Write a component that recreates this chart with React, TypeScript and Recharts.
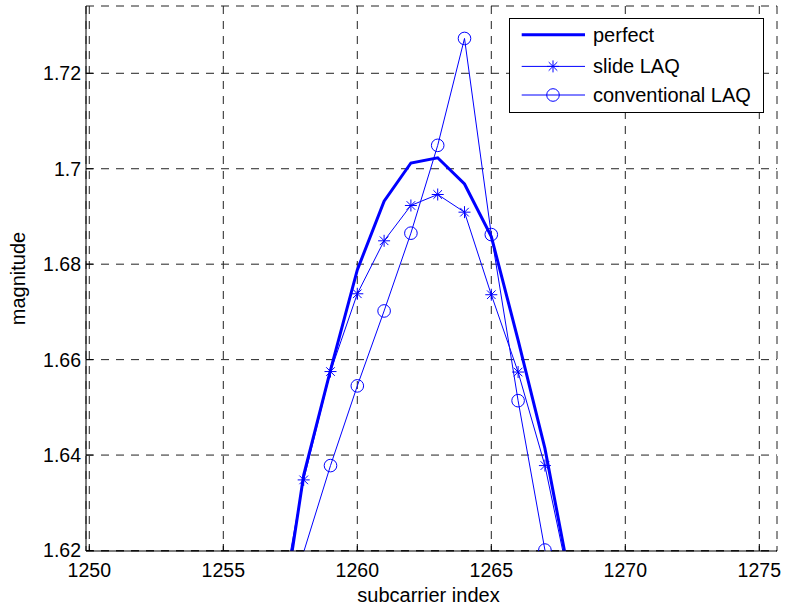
import React from 'react';
import { LineChart, Line, XAxis, YAxis, CartesianGrid, Legend } from 'recharts';

const subcarrierIndex = [1257, 1258, 1259, 1260, 1261, 1262, 1263, 1264, 1265, 1266, 1267, 1268];
const perfectValues = [1.5988, 1.6358, 1.6578, 1.6788, 1.6932, 1.7012, 1.7023, 1.6968, 1.6858, 1.6641, 1.6414, 1.612];
const slideLaqValues = [1.6043, 1.6348, 1.6575, 1.6738, 1.6849, 1.6923, 1.6946, 1.6909, 1.6736, 1.6574, 1.6378, 1.611];
const conventionalLaqValues = [1.6, 1.6197, 1.6378, 1.6545, 1.6702, 1.6865, 1.7049, 1.7273, 1.6862, 1.6514, 1.6201, 1.59];
const seriesNames = ['perfect', 'slide LAQ', 'conventional LAQ'];
const xTicks = [1250, 1255, 1260, 1265, 1270, 1275];
const yTicks = [1.62, 1.64, 1.66, 1.68, 1.7, 1.72];

const X_DOMAIN: [number, number] = [1249.877, 1275.66];
const Y_DOMAIN: [number, number] = [1.6199, 1.7341];

const data = subcarrierIndex.map((x, i) => ({
  x,
  perfect: perfectValues[i],
  slide: slideLaqValues[i],
  conventional: conventionalLaqValues[i],
}));

const BLUE = '#0000ff';
const FONT = '"Liberation Sans", Arial, sans-serif';
const TICK_FS = 19.5;
const FS = 20;

const StarDot = (props: any) => {
  const { cx, cy, index, payload } = props;
  const v = payload ? payload.slide : props.value;
  if (cx == null || cy == null || v < Y_DOMAIN[0]) return <g key={`s${index}`} />;
  const r = 6;
  const d = 4.3;
  return (
    <path
      key={`s${index}`}
      d={`M${cx - r},${cy}H${cx + r}M${cx},${cy - r}V${cy + r}M${cx - d},${cy - d}L${cx + d},${cy + d}M${cx - d},${cy + d}L${cx + d},${cy - d}`}
      stroke={BLUE}
      strokeWidth={1}
      fill="none"
    />
  );
};

const CircleDot = (props: any) => {
  const { cx, cy, index, payload } = props;
  const v = payload ? payload.conventional : props.value;
  if (cx == null || cy == null || v < Y_DOMAIN[0]) return <g key={`c${index}`} />;
  return <circle key={`c${index}`} cx={cx} cy={cy} r={6.3} stroke={BLUE} strokeWidth={1} fill="none" />;
};

const renderLegend = () => {
  const rows = [16.7, 48.4, 77];
  return (
    <svg width={256} height={96} style={{ display: 'block' }}>
      <rect x={0.5} y={0.5} width={254} height={94} fill="#fff" stroke="#000" strokeWidth={1} />
      {seriesNames.map((name, i) => {
        const y = rows[i];
        return (
          <g key={name}>
            <line x1={12.7} x2={76} y1={y} y2={y} stroke={BLUE} strokeWidth={i === 0 ? 3 : 1} />
            {i === 1 && (
              <path
                d={`M${44 - 6},${y}H${44 + 6}M44,${y - 6}V${y + 6}M${44 - 4.3},${y - 4.3}L${44 + 4.3},${y + 4.3}M${44 - 4.3},${y + 4.3}L${44 + 4.3},${y - 4.3}`}
                stroke={BLUE}
                fill="none"
              />
            )}
            {i === 2 && <circle cx={44} cy={y} r={6.3} stroke={BLUE} fill="none" />}
            <text x={84} y={y + 7} fontFamily={FONT} fontSize={FS} fill="#000">
              {name}
            </text>
          </g>
        );
      })}
    </svg>
  );
};

export default function App() {
  return (
    <div style={{ position: 'absolute', left: 0, top: 0, width: 785, height: 612, background: '#fff' }}>
      <LineChart width={785} height={612} data={data} margin={{ top: 6, right: 8, bottom: 5, left: 0 }}>
        <CartesianGrid stroke="#222" strokeDasharray="8 7" horizontal vertical />
        <XAxis
          dataKey="x"
          type="number"
          domain={X_DOMAIN}
          allowDataOverflow
          ticks={xTicks}
          height={56}
          tickSize={-7}
          tickMargin={19}
          axisLine={{ stroke: '#000' }}
          tickLine={{ stroke: '#000' }}
          tick={{ fill: '#000', fontFamily: FONT, fontSize: TICK_FS }}
          interval={0}
          label={{ value: 'subcarrier index', position: 'insideBottom', offset: 5.5, dx: -3, fill: '#000', fontFamily: FONT, fontSize: FS }}
        />
        <XAxis
          xAxisId="top"
          orientation="top"
          dataKey="x"
          type="number"
          domain={X_DOMAIN}
          allowDataOverflow
          ticks={xTicks}
          height={0}
          tickSize={-7}
          tick={false}
          axisLine={{ stroke: '#000' }}
          tickLine={{ stroke: '#000' }}
          interval={0}
        />
        <YAxis
          type="number"
          domain={Y_DOMAIN}
          allowDataOverflow
          ticks={yTicks}
          width={86}
          tickSize={-7}
          tickMargin={12}
          axisLine={{ stroke: '#000' }}
          tickLine={{ stroke: '#000' }}
          tick={{ fill: '#000', fontFamily: FONT, fontSize: TICK_FS }}
          interval={0}
          label={{ value: 'magnitude', angle: -90, position: 'insideLeft', offset: 18, style: { textAnchor: 'middle' }, fill: '#000', fontFamily: FONT, fontSize: FS }}
        />
        <YAxis
          yAxisId="right"
          orientation="right"
          type="number"
          domain={Y_DOMAIN}
          allowDataOverflow
          ticks={yTicks}
          width={0}
          tickSize={-7}
          tick={false}
          axisLine={{ stroke: '#000' }}
          tickLine={{ stroke: '#000' }}
          interval={0}
        />
        <Line
          type="linear"
          dataKey="perfect"
          name={seriesNames[0]}
          stroke={BLUE}
          strokeWidth={3}
          dot={false}
          activeDot={false}
          isAnimationActive={false}
        />
        <Line
          type="linear"
          dataKey="slide"
          name={seriesNames[1]}
          stroke={BLUE}
          strokeWidth={1}
          dot={StarDot}
          activeDot={false}
          isAnimationActive={false}
        />
        <Line
          type="linear"
          dataKey="conventional"
          name={seriesNames[2]}
          stroke={BLUE}
          strokeWidth={1}
          dot={CircleDot}
          activeDot={false}
          isAnimationActive={false}
        />
        <Legend
          layout="vertical"
          align="center"
          verticalAlign="middle"
          content={renderLegend}
          wrapperStyle={{ left: 509, top: 18, width: 256, height: 96 }}
        />
      </LineChart>
    </div>
  );
}
